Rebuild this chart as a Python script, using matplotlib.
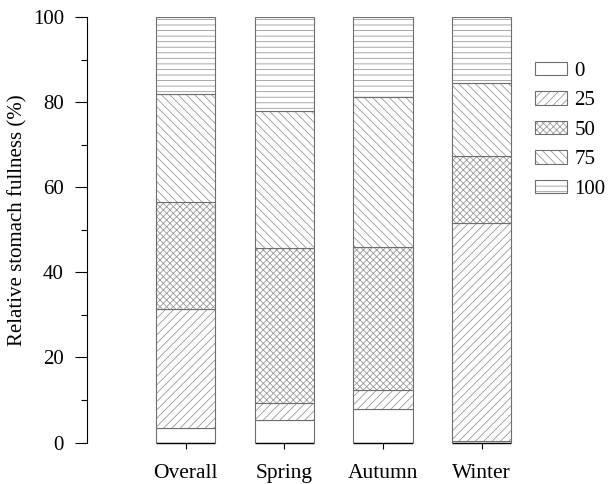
import matplotlib
matplotlib.use("Agg")
import matplotlib.pyplot as plt
import numpy as np
from matplotlib.patches import Patch

plt.rcParams['font.family'] = ['Liberation Serif', 'DejaVu Serif']
plt.rcParams['hatch.linewidth'] = 0.6

categories = ["Overall", "Spring", "Autumn", "Winter"]
classes = ["0", "25", "50", "75", "100"]
# percentage of individuals in each fullness class, per category
v0 = [3.4, 5.2, 7.9, 0.3]
v25 = [28.0, 4.2, 4.4, 51.3]
v50 = [25.2, 36.2, 33.6, 15.8]
v75 = [25.4, 32.2, 35.2, 17.1]
v100 = [18.0, 22.2, 18.9, 15.5]
series = [v0, v25, v50, v75, v100]
hatches = ["", "////", "xxxxx", "\\\\\\\\", "---"]

fig = plt.figure(figsize=(6.09, 4.84), dpi=100)
ax = fig.add_axes([87/609, 1-442.5/484, 443/609, 425.5/484])

x = np.arange(len(categories))
width = 0.6
bottom = np.zeros(len(categories))
handles = []
hatch_col = '#9a9a9a'
edge_col = '#6e6e6e'
for vals, h, lab in zip(series, hatches, classes):
    ax.bar(x, vals, width, bottom=bottom, color='white', edgecolor=hatch_col,
           hatch=h, linewidth=0)
    ax.bar(x, vals, width, bottom=bottom, fill=False, edgecolor=edge_col,
           linewidth=0.8)
    bottom += np.array(vals)
    handles.append((Patch(facecolor='white', edgecolor=hatch_col, hatch=h, linewidth=0),
                    Patch(fill=False, edgecolor=edge_col, linewidth=0.8)))

# axis baseline segments under bars
ax.hlines(np.zeros(len(x)), x - width/2, x + width/2, color='black', linewidth=1.0,
          clip_on=False, zorder=5)

ax.set_xlim(-1, 3.49)
ax.set_ylim(0, 100)
ax.set_xticks(x)
ax.set_xticklabels(categories, fontsize=15.5)
ax.set_yticks([0, 20, 40, 60, 80, 100])
ax.set_yticks([10, 30, 50, 70, 90], minor=True)
ax.tick_params(axis='y', which='major', length=8.6, width=0.8, labelsize=15, direction='out', pad=8)
ax.tick_params(axis='y', which='minor', length=4.3, width=0.8, direction='out')
ax.tick_params(axis='x', length=4.3, width=0.8, labelsize=15.5, pad=11)
for s in ['top', 'right', 'bottom']:
    ax.spines[s].set_visible(False)
ax.spines['left'].set_linewidth(0.8)
ax.set_ylabel("Relative stomach fullness (%)", fontsize=15)
ax.yaxis.set_label_coords(-0.135, 0.523)

fig.legend(handles=handles, labels=classes, loc='upper left',
           bbox_to_anchor=(535/609, 1-62/484),
           frameon=False, fontsize=15, handlelength=1.55, handleheight=0.6,
           handletextpad=0.35, labelspacing=0.5, borderpad=0, borderaxespad=0)

fig.savefig("out.png", dpi=100)
